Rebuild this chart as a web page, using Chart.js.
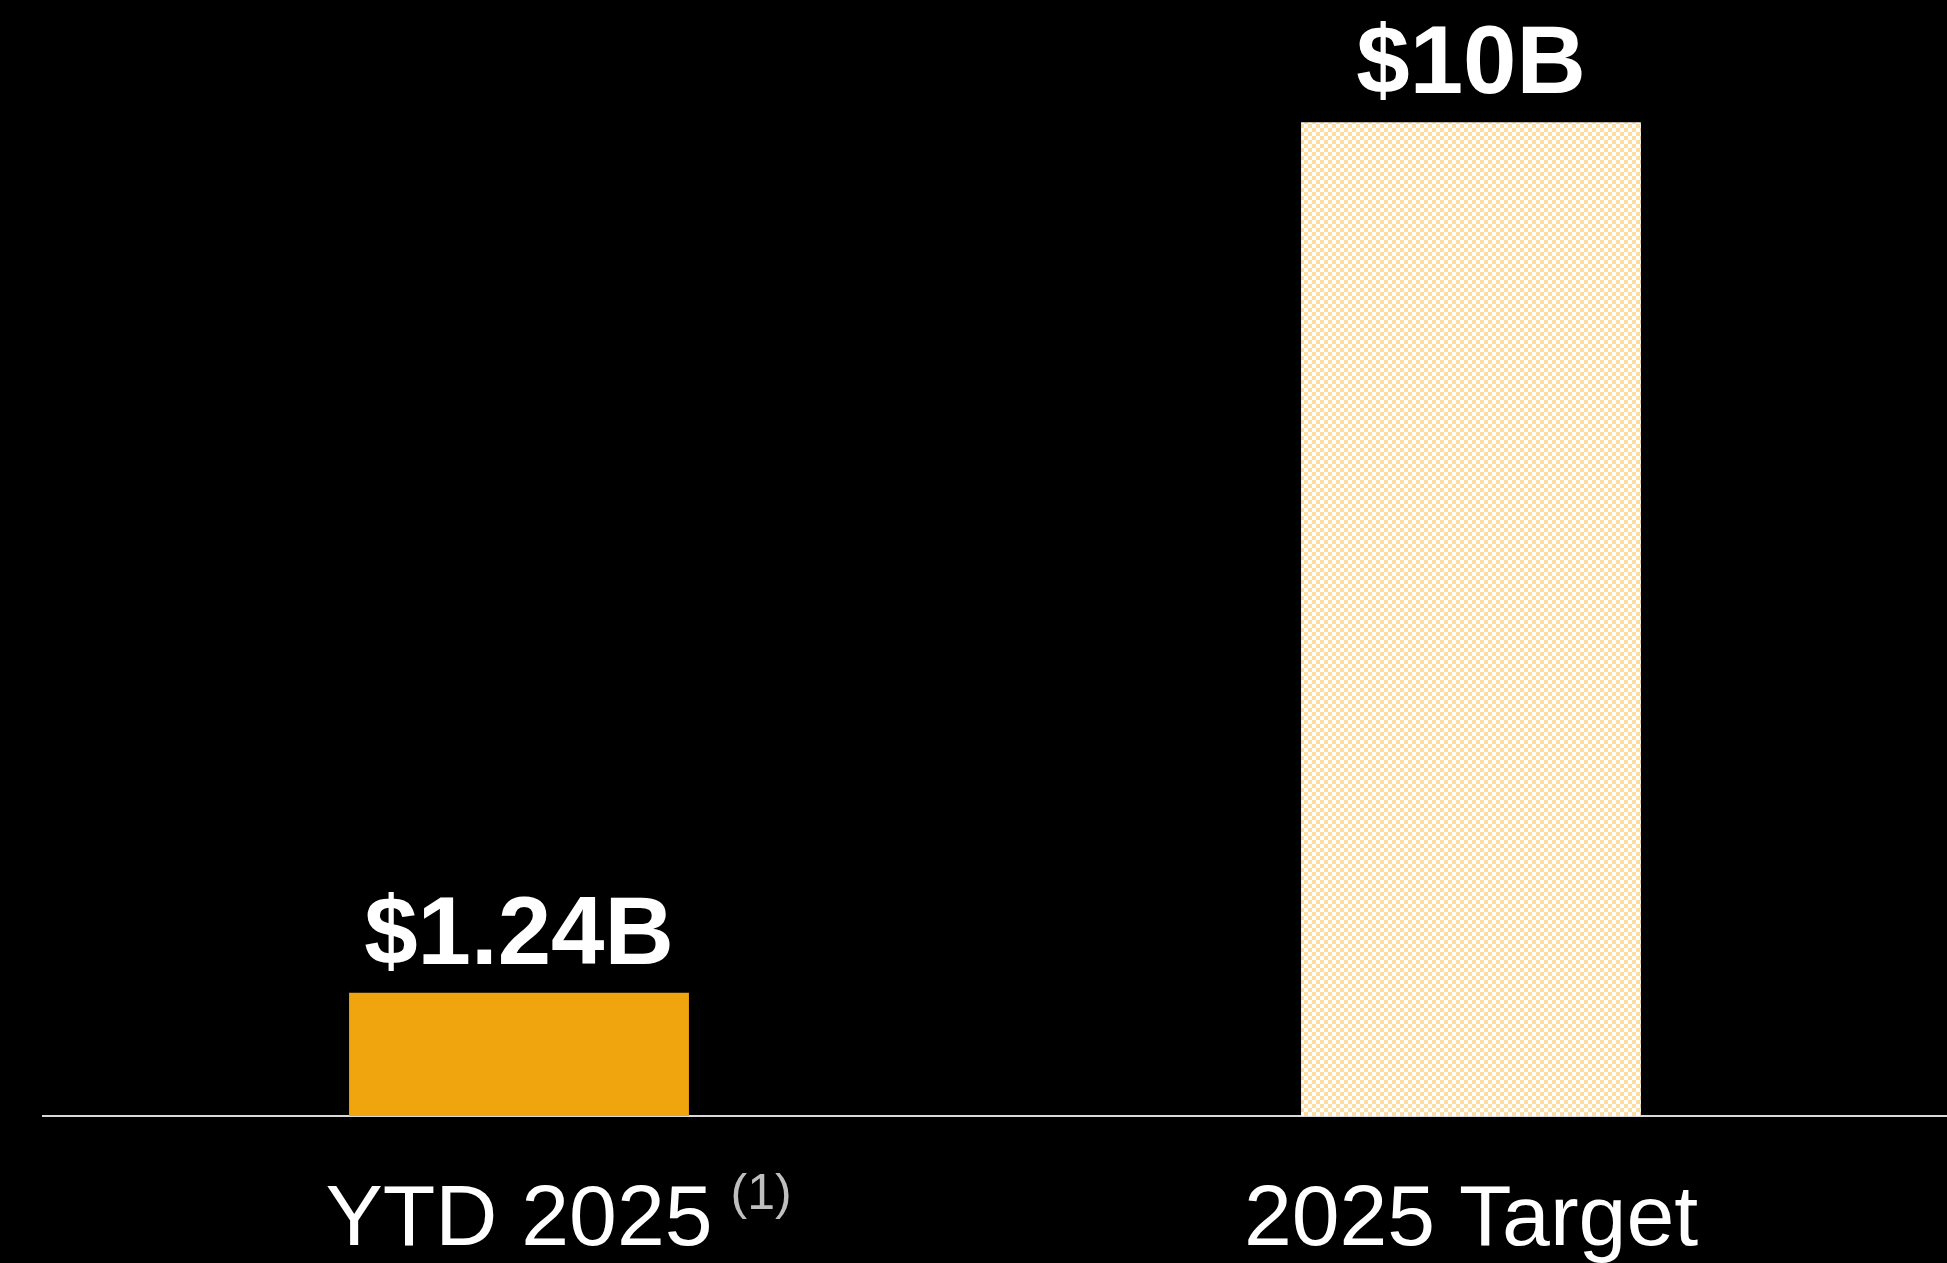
<!DOCTYPE html>
<html>
<head>
<meta charset="utf-8">
<title>YTD 2025 vs 2025 Target</title>
<script src="https://cdn.jsdelivr.net/npm/chart.js@4.4.1/dist/chart.umd.min.js"></script>
<style>
    body { margin: 0; background: #000; }
    .chart-box { width: 1947px; height: 1263px; }
</style>
</head>
<body>
<div class="chart-box"><canvas id="goalChart" width="1947" height="1263"></canvas></div>
<script>
// Datos
const categories = ['YTD 2025', '2025 Target'];
const footnotes = ['(1)', ''];
const values = [1.24, 10];
const valueLabels = ['$1.24B', '$10B'];

// Patron a cuadros para la barra objetivo
function makeChecker(ctx) {
    const c = document.createElement('canvas');
    c.width = 8;
    c.height = 8;
    const p = c.getContext('2d');
    p.fillStyle = '#ffffff';
    p.fillRect(0, 0, 8, 8);
    p.fillStyle = '#fcdca0';
    p.fillRect(0, 0, 4, 4);
    p.fillRect(4, 4, 4, 4);
    return ctx.createPattern(c, 'repeat');
}

// Etiquetas de valor y de categoria
const labelPlugin = {
    id: 'labels',
    afterDatasetsDraw(chart) {
        const ctx = chart.ctx;
        const meta = chart.getDatasetMeta(0);
        const xScale = chart.scales.x;
        ctx.save();
        ctx.fillStyle = '#ffffff';
        ctx.textAlign = 'center';
        ctx.textBaseline = 'alphabetic';
        ctx.font = 'bold 96px "Liberation Sans", Arial, sans-serif';
        meta.data.forEach((bar, i) => {
            ctx.fillText(valueLabels[i], bar.x, bar.y - 29);
        });

        const base = chart.chartArea.bottom + 129;
        categories.forEach((cat, i) => {
            const x = xScale.getPixelForValue(i);
            ctx.font = '86px "Liberation Sans", Arial, sans-serif';
            ctx.fillStyle = '#ffffff';
            ctx.textAlign = 'center';
            ctx.fillText(cat, x, base);
            if (footnotes[i]) {
                const w = ctx.measureText(cat).width;
                ctx.font = '50px "Liberation Sans", Arial, sans-serif';
                ctx.fillStyle = '#bfbfbf';
                ctx.textAlign = 'left';
                ctx.fillText(footnotes[i], x + w / 2 + 18, base - 36);
            }
        });
        ctx.restore();
    }
};

document.addEventListener('DOMContentLoaded', function() {
    const ctx = document.getElementById('goalChart').getContext('2d');
    const checker = makeChecker(ctx);
    new Chart(ctx, {
        type: 'bar',
        data: {
            labels: categories,
            datasets: [{
                data: values,
                backgroundColor: ['#f0a50f', checker],
                borderWidth: 0,
                barPercentage: 0.357,
                categoryPercentage: 1
            }]
        },
        options: {
            responsive: false,
            animation: false,
            devicePixelRatio: 1,
            layout: { padding: { left: 43, right: 0, top: 0, bottom: 0 } },
            plugins: {
                legend: { display: false },
                tooltip: { enabled: false }
            },
            scales: {
                x: {
                    grid: { display: false },
                    ticks: { display: false },
                    border: { display: true, color: '#d9d9d9', width: 2 },
                    afterFit: function(scale) { scale.height = 147; }
                },
                y: {
                    display: false,
                    min: 0,
                    max: 11.23
                }
            }
        },
        plugins: [labelPlugin]
    });
});
</script>
</body>
</html>
